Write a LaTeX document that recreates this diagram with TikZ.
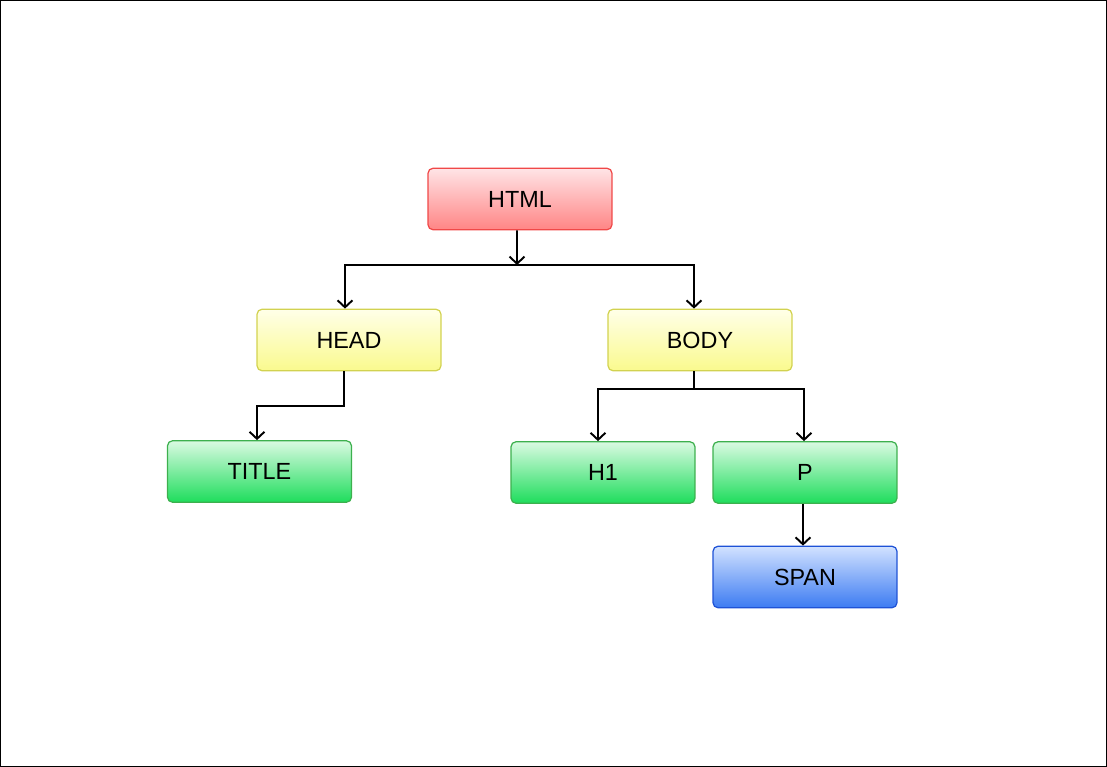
\documentclass[tikz,border=0pt]{standalone}
\usepackage{fontspec}
\setmainfont{Liberation Sans}
\usetikzlibrary{arrows.meta}

\definecolor{redtop}{HTML}{FFE4E6}
\definecolor{redbot}{HTML}{FF8585}
\definecolor{redline}{HTML}{F04848}
\definecolor{yeltop}{HTML}{FFFFE8}
\definecolor{yelbot}{HTML}{FAFA8E}
\definecolor{yelline}{HTML}{D2D250}
\definecolor{grntop}{HTML}{DAFAE2}
\definecolor{grnbot}{HTML}{1EDD5C}
\definecolor{grnline}{HTML}{3DB04E}
\definecolor{blutop}{HTML}{D2E2FF}
\definecolor{blubot}{HTML}{3C7BF2}
\definecolor{bluline}{HTML}{1E52D6}

\begin{document}
\begin{tikzpicture}
        [x=0.02cm, y=-0.02cm, thick,
         every node/.style={rectangle, rounded corners=0.1cm, minimum width=3.68cm,
           minimum height=1.23cm, inner sep=0pt, line width=0.7pt,
           font=\fontsize{13.3}{16}\selectfont},
         tag/.style n args={3}{draw=#3, top color=#1, bottom color=#2},
         arr/.style={-{Straight Barb[length=4pt,width=8.5pt]}, line width=1.1pt}]
        \useasboundingbox (0,0) rectangle (1107,767);
        \draw[line width=0.6pt] (0.5,0.5) rectangle (1106.5,766.5);

        \node[tag={redtop}{redbot}{redline}] (html)  at (520,199)   {HTML};
        \node[tag={yeltop}{yelbot}{yelline}] (head)  at (349,340)   {HEAD};
        \node[tag={yeltop}{yelbot}{yelline}] (body)  at (700,340)   {BODY};
        \node[tag={grntop}{grnbot}{grnline}] (title) at (259.5,471.5) {TITLE};
        \node[tag={grntop}{grnbot}{grnline}] (hone)  at (603,472.5) {H1};
        \node[tag={grntop}{grnbot}{grnline}] (par)   at (805,472.5) {P};
        \node[tag={blutop}{blubot}{bluline}] (span)  at (805,577)   {SPAN};

        \coordinate (htmlbus) at (517,265);
        \coordinate (headbus) at (300,406);
        \coordinate (bodybus) at (700,389);

        \draw[arr] ([xshift=-0.06cm]html.south) -- (htmlbus);
        \draw[arr] (htmlbus) -| ([xshift=-0.08cm]head.north);
        \draw[arr] (htmlbus) -| ([xshift=-0.12cm]body.north);
        \draw[arr] ([xshift=-0.1cm]head.south) |- (headbus) -| ([xshift=-0.05cm]title.north);
        \foreach \to/\dx in {hone/-0.1cm, par/-0.02cm}
        \draw[arr] ([xshift=-0.12cm]body.south) |- (bodybus) -| ([xshift=\dx]\to.north);
        \draw[arr] ([xshift=-0.04cm]par.south) -- ([xshift=-0.04cm]span.north);
    \end{tikzpicture}
\end{document}
